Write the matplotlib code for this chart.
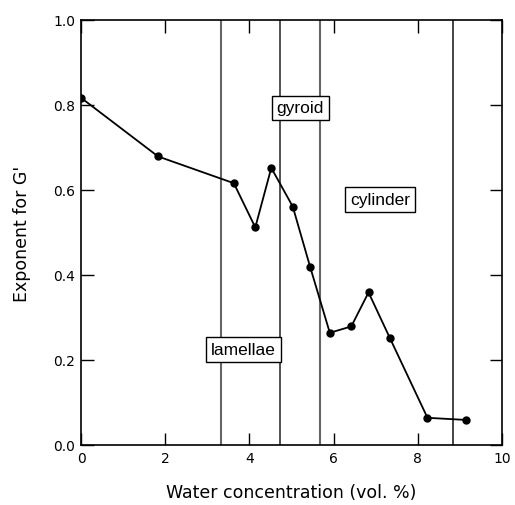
import numpy as np
import matplotlib
matplotlib.use("Agg")
import matplotlib.pyplot as plt

# values
water = [0.0, 1.83, 3.63, 4.14, 4.52, 5.03, 5.44, 5.91, 6.42, 6.83, 7.34, 8.23, 9.14]
exponent = [0.817, 0.679, 0.616, 0.512, 0.652, 0.561, 0.420, 0.264, 0.279, 0.359, 0.251, 0.064, 0.059]

# phase boundaries (vol. %)
boundaries = [3.33, 4.72, 5.67, 8.84]
boundary_colors = ["#666666", "#222222", "#666666", "#111111"]
boundary_widths = [1.5, 1.1, 1.5, 1.1]

phase_names = ["lamellae", "gyroid", "cylinder"]
phase_x = [3.86, 5.21, 7.10]
phase_y = [0.224, 0.793, 0.578]

plt.rcParams["font.family"] = ["DejaVu Sans"]

fig = plt.figure(figsize=(5.15, 5.06), dpi=100)
ax = fig.add_axes([81 / 515, 1 - 446 / 506, 421 / 515, 425 / 506])

for xb, c, w in zip(boundaries, boundary_colors, boundary_widths):
    ax.axvline(xb, color=c, lw=w, zorder=1)

ax.plot(water, exponent, color="black", lw=1.3, marker="o", markersize=5, zorder=3)

for name, px, py in zip(phase_names, phase_x, phase_y):
    ax.text(px, py, name, ha="center", va="center", fontsize=12.5,
            family="Liberation Sans", zorder=4,
            bbox=dict(boxstyle="square,pad=0.28", facecolor="white",
                      edgecolor="black", linewidth=1))

ax.set_xlim(0, 10)
ax.set_ylim(0, 1.0)
ax.set_xticks([0, 2, 4, 6, 8, 10])
ax.set_yticks([0.0, 0.2, 0.4, 0.6, 0.8, 1.0])
ax.set_yticklabels(["0.0", "0.2", "0.4", "0.6", "0.8", "1.0"])
ax.tick_params(direction="in", length=9, width=1, top=True, right=True,
               labelsize=10, pad=4)
for s in ax.spines.values():
    s.set_linewidth(1.2)

ax.set_xlabel("Water concentration (vol. %)", fontsize=12.5, labelpad=13)
ax.set_ylabel("Exponent for G'", fontsize=12.5, labelpad=16)

fig.savefig("out.png", dpi=100)
